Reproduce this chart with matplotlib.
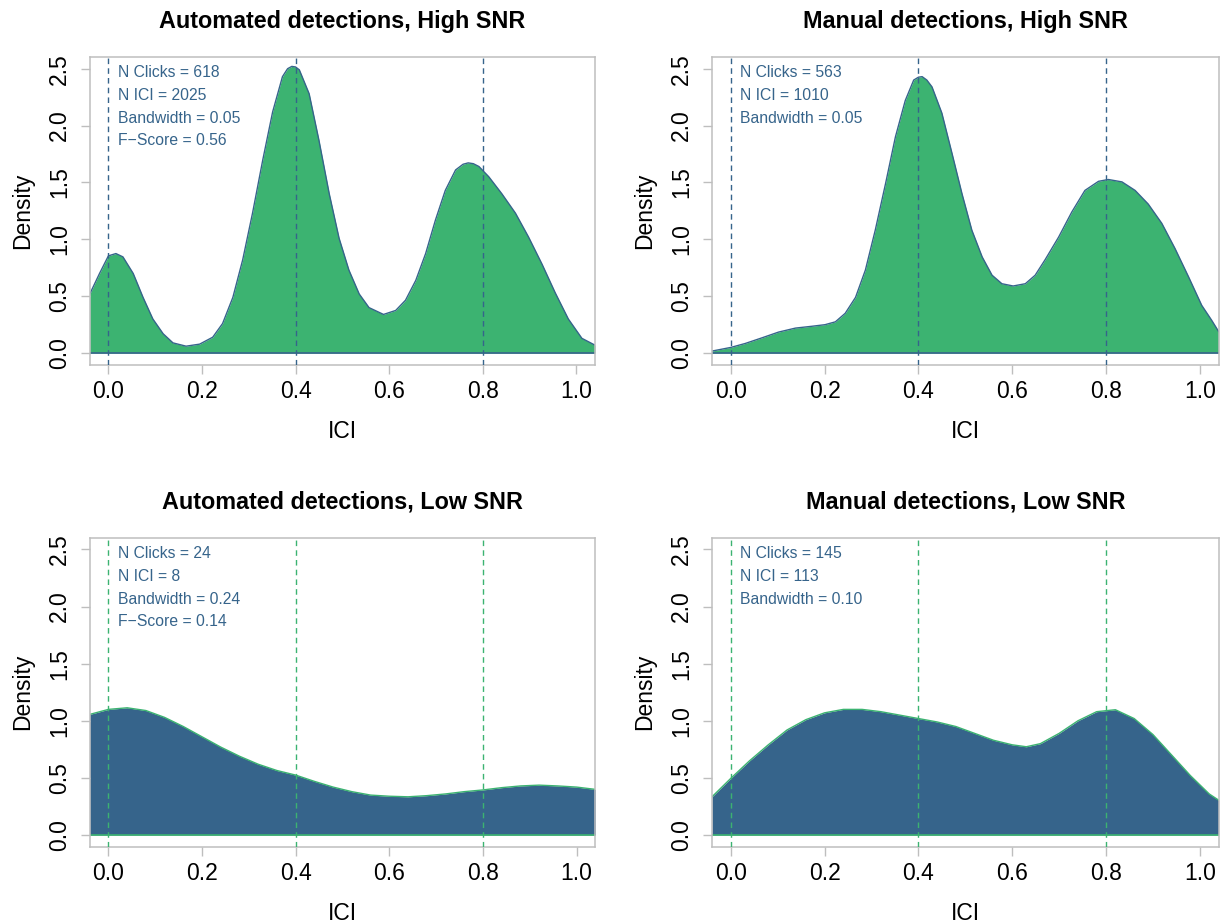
import matplotlib
matplotlib.use("Agg")
import matplotlib.pyplot as plt

plt.rcParams["font.family"] = ["Liberation Sans", "DejaVu Sans"]

# density curves (ICI in s, density)
auto_high_x = [-0.040, -0.019, 0.000, 0.016, 0.031, 0.053, 0.074, 0.095, 0.117, 0.138,
               0.166, 0.195, 0.223, 0.244, 0.266, 0.287, 0.308, 0.330, 0.351, 0.372,
               0.383, 0.392, 0.400, 0.408, 0.429, 0.450, 0.472, 0.493, 0.514, 0.536,
               0.557, 0.588, 0.614, 0.635, 0.657, 0.678, 0.699, 0.720, 0.742, 0.758,
               0.769, 0.780, 0.792, 0.813, 0.841, 0.870, 0.898, 0.927, 0.955, 0.983,
               1.012, 1.040]
auto_high_y = [0.518, 0.70, 0.855, 0.875, 0.846, 0.70, 0.49, 0.30, 0.17, 0.09,
               0.061, 0.079, 0.14, 0.26, 0.49, 0.82, 1.23, 1.70, 2.12, 2.43,
               2.50, 2.52, 2.515, 2.49, 2.28, 1.87, 1.40, 1.01, 0.73, 0.52,
               0.40, 0.34, 0.375, 0.465, 0.64, 0.875, 1.17, 1.43, 1.61, 1.66,
               1.672, 1.665, 1.64, 1.55, 1.40, 1.23, 1.02, 0.78, 0.53, 0.30,
               0.13, 0.07]

manual_high_x = [-0.040, 0.000, 0.031, 0.067, 0.102, 0.138, 0.173, 0.201, 0.223, 0.244,
                 0.266, 0.287, 0.308, 0.330, 0.351, 0.372, 0.390, 0.400, 0.408, 0.418,
                 0.429, 0.450, 0.472, 0.493, 0.514, 0.536, 0.557, 0.578, 0.602, 0.628,
                 0.649, 0.670, 0.699, 0.727, 0.755, 0.784, 0.805, 0.834, 0.862, 0.890,
                 0.919, 0.947, 0.976, 1.004, 1.025, 1.040]
manual_high_y = [0.018, 0.05, 0.085, 0.135, 0.185, 0.22, 0.236, 0.25, 0.275, 0.35,
                 0.49, 0.73, 1.08, 1.49, 1.90, 2.22, 2.40, 2.425, 2.43, 2.40,
                 2.34, 2.11, 1.75, 1.40, 1.08, 0.845, 0.685, 0.61, 0.59, 0.61,
                 0.685, 0.82, 1.02, 1.24, 1.43, 1.51, 1.526, 1.505, 1.43, 1.31,
                 1.14, 0.92, 0.67, 0.42, 0.29, 0.19]

auto_low_x = [-0.04, 0.00, 0.04, 0.08, 0.12, 0.16, 0.20, 0.24, 0.28, 0.32, 0.36, 0.40,
              0.44, 0.48, 0.52, 0.56, 0.60, 0.64, 0.68, 0.72, 0.76, 0.80, 0.84, 0.88,
              0.92, 0.96, 1.00, 1.04]
auto_low_y = [1.056, 1.10, 1.114, 1.09, 1.03, 0.95, 0.86, 0.77, 0.69, 0.62, 0.565, 0.525,
              0.47, 0.42, 0.38, 0.35, 0.34, 0.335, 0.345, 0.36, 0.38, 0.395, 0.415, 0.43,
              0.437, 0.43, 0.42, 0.40]

manual_low_x = [-0.04, 0.00, 0.04, 0.08, 0.12, 0.16, 0.20, 0.24, 0.28, 0.32, 0.36, 0.40,
                0.44, 0.48, 0.52, 0.56, 0.60, 0.63, 0.66, 0.70, 0.74, 0.78, 0.82, 0.86,
                0.90, 0.94, 0.98, 1.02, 1.04]
manual_low_y = [0.335, 0.496, 0.65, 0.79, 0.92, 1.01, 1.07, 1.10, 1.10, 1.08, 1.05, 1.02,
                0.99, 0.95, 0.89, 0.83, 0.79, 0.773, 0.80, 0.89, 1.00, 1.08, 1.097, 1.02,
                0.88, 0.70, 0.52, 0.36, 0.306]

titles = ["Automated detections, High SNR", "Manual detections, High SNR",
          "Automated detections, Low SNR", "Manual detections, Low SNR"]
stats = [["N Clicks = 618", "N ICI = 2025", "Bandwidth = 0.05", "F\u2212Score = 0.56"],
         ["N Clicks = 563", "N ICI = 1010", "Bandwidth = 0.05"],
         ["N Clicks = 24", "N ICI = 8", "Bandwidth = 0.24", "F\u2212Score = 0.14"],
         ["N Clicks = 145", "N ICI = 113", "Bandwidth = 0.10"]]
ref_ici = [0.0, 0.4, 0.8]

GREEN = "#3CB371"   # mediumseagreen
BLUE = "#36648B"    # steelblue4
GREY = "#BEBEBE"

W, H = 1223, 924
# axes boxes in pixels: left, top, right, bottom
boxes = [(89.7, 57.3, 595.0, 364.5), (712.0, 57.3, 1218.6, 364.5),
         (89.7, 538.0, 595.3, 846.5), (712.0, 538.0, 1218.6, 846.5)]

fig = plt.figure(figsize=(W / 100, H / 100), dpi=100)

curves = [(auto_high_x, auto_high_y), (manual_high_x, manual_high_y),
          (auto_low_x, auto_low_y), (manual_low_x, manual_low_y)]

for i, ((xs, ys), (l, t, r, b)) in enumerate(zip(curves, boxes)):
    ax = fig.add_axes([l / W, 1 - b / H, (r - l) / W, (b - t) / H])
    high = i < 2
    fill, edge = (GREEN, BLUE) if high else (BLUE, GREEN)

    ax.fill_between(xs, ys, 0, color=fill, lw=0, zorder=1)
    ax.plot(xs, ys, color=edge, lw=1.0, zorder=2)
    ax.axhline(0, color=edge, lw=1.2, zorder=2)
    for v in ref_ici:
        ax.axvline(v, color=edge, lw=1.0, ls=(0, (4, 3)), zorder=3)

    for k, s in enumerate(stats[i]):
        ax.text(0.02, 2.465 - 0.2 * k, s, color=BLUE, fontsize=11.3,
                ha="left", va="center")

    ax.set_xlim(-0.04, 1.04)
    ax.set_ylim(-0.1, 2.6)
    ax.set_xticks([0.0, 0.2, 0.4, 0.6, 0.8, 1.0])
    ax.set_xticklabels(["0.0", "0.2", "0.4", "0.6", "0.8", "1.0"])
    ax.set_yticks([0.0, 0.5, 1.0, 1.5, 2.0, 2.5])
    ax.set_yticklabels(["0.0", "0.5", "1.0", "1.5", "2.0", "2.5"],
                       rotation=90, va="center")
    ax.tick_params(length=6.5, width=1.0, color=GREY, labelsize=16.5, pad=5)
    ax.tick_params(axis="y", pad=7)
    for sp in ax.spines.values():
        sp.set_color(GREY)
        sp.set_linewidth(1.1)

    ax.set_title(titles[i], fontsize=16.8, fontweight="bold", pad=21)
    ax.set_xlabel("ICI", fontsize=16.5, labelpad=12)
    ax.set_ylabel("Density", fontsize=16.5, labelpad=10)

fig.savefig("out.png", dpi=100)
